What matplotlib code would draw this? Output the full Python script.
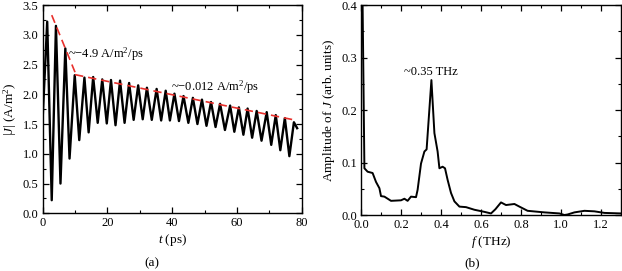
import matplotlib.pyplot as plt
from matplotlib.ticker import MultipleLocator

plt.rcParams['font.family'] = ['Liberation Serif', 'DejaVu Serif']
plt.rcParams['mathtext.fontset'] = 'custom'
plt.rcParams['mathtext.rm'] = 'Liberation Serif'
plt.rcParams['mathtext.it'] = 'Liberation Serif:italic'

# (a) current amplitude: peaks and troughs
t_ps = [0.0, 1.4, 2.8, 4.1, 5.5, 7.0, 8.3, 9.9, 11.3, 12.9, 14.2, 15.6, 17.0,
        18.4, 19.8, 21.1, 22.5, 23.9, 25.3, 26.7, 28.1, 29.5, 30.9, 32.2,
        33.7, 35.2, 36.6, 38.0, 39.3, 40.7, 42.1, 43.5, 45.0, 46.4, 47.8,
        49.2, 50.6, 52.0, 53.4, 54.8, 56.3, 57.9, 59.2, 60.6, 62.0, 63.3,
        64.7, 66.1, 67.6, 69.2, 70.6, 72.0, 73.4, 74.8, 76.2, 77.6, 78.6]
J_abs = [1.6, 3.22, 0.22, 3.15, 0.50, 2.77, 0.92, 2.32, 1.23, 2.28, 1.36, 2.29,
         1.52, 2.25, 1.51, 2.24, 1.48, 2.23, 1.52, 2.19, 1.57, 2.15, 1.58, 2.11,
         1.57, 2.09, 1.56, 2.06, 1.56, 2.01, 1.55, 1.97, 1.52, 1.94, 1.50, 1.91,
         1.47, 1.87, 1.45, 1.84, 1.40, 1.81, 1.37, 1.78, 1.32, 1.76, 1.27, 1.72,
         1.22, 1.70, 1.15, 1.65, 1.06, 1.60, 0.96, 1.53, 1.43]

# dashed fit lines
fit1_t = [2.8, 10.0]
fit1_J = [3.33, 2.37]
fit2_t = [10.0, 78.5]
fit2_J = [2.33, 1.56]

# (b) spectrum
f_thz = [0.0, 0.008, 0.017, 0.033, 0.058, 0.075, 0.092, 0.10, 0.117, 0.15,
         0.20, 0.217, 0.233, 0.25, 0.275, 0.283, 0.30, 0.317, 0.328, 0.352,
         0.367, 0.383, 0.392, 0.408, 0.42, 0.433, 0.45, 0.467, 0.492, 0.525,
         0.567, 0.617, 0.65, 0.672, 0.70, 0.725, 0.767, 0.792, 0.833, 0.917,
         0.992, 1.017, 1.033, 1.067, 1.117, 1.167, 1.217, 1.30]
amp = [0.45, 0.40, 0.089, 0.0825, 0.080, 0.063, 0.051, 0.036, 0.035, 0.027,
       0.028, 0.031, 0.027, 0.035, 0.034, 0.048, 0.098, 0.121, 0.125, 0.257,
       0.156, 0.121, 0.089, 0.092, 0.089, 0.067, 0.042, 0.026, 0.016, 0.015,
       0.010, 0.006, 0.003, 0.011, 0.024, 0.019, 0.021, 0.016, 0.008, 0.005,
       0.003, 0.0, 0.001, 0.005, 0.008, 0.007, 0.004, 0.003]

fig = plt.figure(figsize=(6.22, 2.71), dpi=100)
ax1 = fig.add_axes([0.0686, 0.2129, 0.4164, 0.7686])
ax2 = fig.add_axes([0.5804, 0.2066, 0.418, 0.7749])

ax1.plot(t_ps, J_abs, color='black', lw=1.7, solid_joinstyle='round', zorder=2)
ax1.plot(fit1_t, fit1_J, color='#e8302c', lw=1.2, dashes=(5, 3), zorder=3)
ax1.plot(fit2_t, fit2_J, color='#e8302c', lw=1.2, dashes=(5, 3), zorder=3)
ax1.set_xlim(0, 80)
ax1.set_ylim(0, 3.5)
ax1.xaxis.set_major_locator(MultipleLocator(20))
ax1.xaxis.set_minor_locator(MultipleLocator(10))
ax1.yaxis.set_major_locator(MultipleLocator(0.5))
ax1.yaxis.set_minor_locator(MultipleLocator(0.25))
ax1.set_yticklabels(['%.1f' % v for v in ax1.get_yticks()])
ax1.set_xlabel('$t$ (ps)', fontsize=9.5, labelpad=2)
ax1.set_ylabel('|$J$| (A/m$^2$)', fontsize=9.5, labelpad=3)
ax1.text(7.8, 2.68, '~\u22124.9 A/m$^2$/ps', fontsize=9, va='center')
ax1.text(39.5, 2.12, '~\u22120.012 A/m$^2$/ps', fontsize=9, va='center')

ax2.plot(f_thz, amp, color='black', lw=1.4, solid_joinstyle='round')
ax2.set_xlim(0, 1.3)
ax2.set_ylim(0, 0.4)
ax2.xaxis.set_major_locator(MultipleLocator(0.2))
ax2.xaxis.set_minor_locator(MultipleLocator(0.1))
ax2.yaxis.set_major_locator(MultipleLocator(0.1))
ax2.yaxis.set_minor_locator(MultipleLocator(0.05))
ax2.set_xticklabels(['%.1f' % v for v in ax2.get_xticks()])
ax2.set_yticklabels(['%.1f' % v for v in ax2.get_yticks()])
ax2.set_xlabel('$f$ (THz)', fontsize=9.5, labelpad=2)
ax2.set_ylabel('Amplitude of $J$ (arb. units)', fontsize=9.5, labelpad=3)
ax2.text(0.35, 0.272, '~0.35 THz', fontsize=9, ha='center', va='center')

fig.text(152 / 622, 0.03, '(a)', ha='center', va='center', fontsize=9.5)
fig.text(472 / 622, 0.03, '(b)', ha='center', va='center', fontsize=9.5)

for ax in (ax1, ax2):
    for s in ax.spines.values():
        s.set_linewidth(1.0)
    ax.tick_params(which='both', direction='in', top=True, right=True,
                   labelsize=9, pad=3)
    ax.tick_params(which='major', length=4, width=0.9)
    ax.tick_params(which='minor', length=2, width=0.8)

fig.savefig('out.png', dpi=100)
